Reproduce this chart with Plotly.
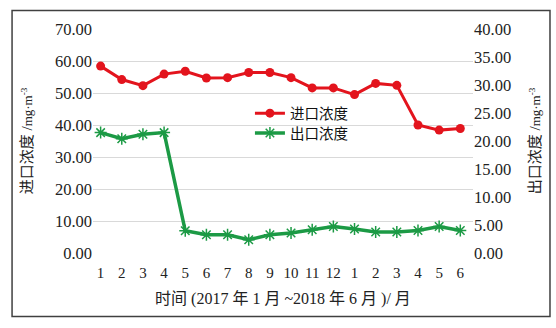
import plotly.graph_objects as go

months = ["1","2","3","4","5","6","7","8","9","10","11","12","1","2","3","4","5","6"]
inlet = [58.4, 54.2, 52.3, 55.9, 56.8, 54.7, 54.8, 56.4, 56.4, 54.8, 51.6, 51.6,
         49.5, 53.0, 52.4, 40.0, 38.4, 38.9]
outlet = [21.5, 20.4, 21.2, 21.5, 3.97, 3.26, 3.26, 2.37, 3.26, 3.56, 4.15, 4.74,
          4.27, 3.74, 3.74, 4.03, 4.74, 4.03]
left_ticks = [0, 10, 20, 30, 40, 50, 60, 70]
right_ticks = [0, 5, 10, 15, 20, 25, 30, 35, 40]

xpos = list(range(1, len(months) + 1))
FONT = "Liberation Serif, Noto Sans CJK SC, serif"
RED = "#e3141d"
GREEN = "#1c9a45"

fig = go.Figure()
fig.add_trace(go.Scatter(
    x=xpos, y=inlet, name="进口浓度", mode="lines+markers",
    line=dict(color=RED, width=3),
    marker=dict(symbol="circle", size=9, color=RED),
    legend="legend",
))
fig.add_trace(go.Scatter(
    x=xpos, y=outlet, name="出口浓度", mode="lines+markers", yaxis="y2",
    line=dict(color=GREEN, width=3.5),
    marker=dict(symbol="asterisk-open", size=10, color=GREEN,
                line=dict(color=GREEN, width=1.5)),
    legend="legend2",
))

leg_common = dict(xanchor="left", yanchor="middle", bgcolor="rgba(0,0,0,0)",
                  font=dict(size=14.5, color="#111111"), itemwidth=30)

fig.update_layout(
    width=556, height=328,
    margin=dict(l=93, r=83, t=29, b=75),
    paper_bgcolor="white", plot_bgcolor="white",
    font=dict(family=FONT, size=14, color="#222222"),
    showlegend=True,
    legend=dict(x=0.413, y=0.624, **leg_common),
    legend2=dict(x=0.413, y=0.535, **leg_common),
    xaxis=dict(
        tickmode="array", tickvals=xpos, ticktext=months,
        range=[0.64, 18.6], showgrid=False, zeroline=False, showline=False,
        ticks="outside", ticklen=6, tickcolor="rgba(0,0,0,0)",
        tickfont=dict(size=15),
        title=dict(text="时间 (2017 年 1 月 ~2018 年 6 月 )/ 月",
                   font=dict(size=16), standoff=12),
    ),
    yaxis=dict(
        range=[0, 70], tickvals=left_ticks, tickformat=".2f",
        showgrid=True, gridcolor="#d9d9d9", gridwidth=1,
        zeroline=False, showline=False, ticks="", tickfont=dict(size=16.5),
        title=dict(text="进口浓度 /<span style='font-size:13px'>mg·m<sup>-3</sup></span>",
                   font=dict(size=15), standoff=18),
    ),
    yaxis2=dict(
        range=[0, 40], tickvals=right_ticks, tickformat=".2f",
        overlaying="y", side="right", showgrid=False, zeroline=False,
        showline=False, ticks="", tickfont=dict(size=16.5),
        title=dict(text="出口浓度 /<span style='font-size:13px'>mg·m<sup>-3</sup></span>",
                   font=dict(size=15), standoff=19),
    ),
    shapes=[dict(type="rect", xref="paper", yref="paper",
                 x0=-0.213, x1=1.2026, y0=-0.2835, y1=1.0828,
                 line=dict(color="#404040", width=1.5), fillcolor="rgba(0,0,0,0)",
                 layer="below")],
)

fig.write_html("out.html")
